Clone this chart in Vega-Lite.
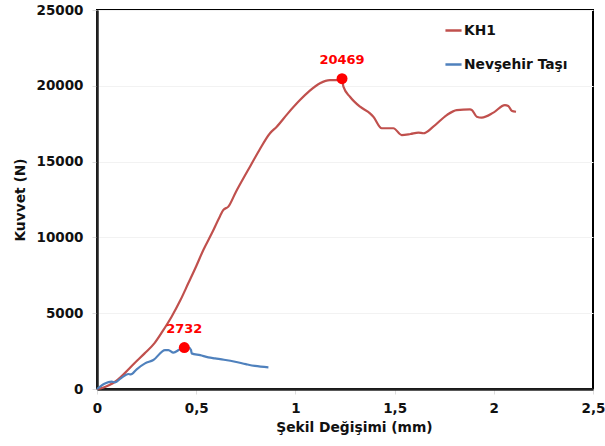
{
  "$schema": "https://vega.github.io/schema/vega-lite/v6.json",
  "autosize": {"type": "none"},
  "padding": {"left": 97, "top": 10, "right": 12, "bottom": 57},
  "width": 496,
  "height": 379,
  "background": "white",
  "config": {
    "font": "DejaVu Sans",
    "view": {"stroke": "#000", "strokeWidth": 2},
    "axis": {
      "labelFont": "DejaVu Sans", "labelFontWeight": "bold", "labelFontSize": 13.5, "labelColor": "#111",
      "titleFont": "DejaVu Sans", "titleFontWeight": "bold", "titleFontSize": 13.8, "titleColor": "#111",
      "domainColor": "#222", "domainWidth": 2.5, "tickColor": "#ddd", "tickSize": 5, "gridColor": "#f2f2f2"
    }
  },
  "datasets": {
    "curves": [
      {"series": "KH1", "x": 0, "y": 0},
      {"series": "KH1", "x": 0.03, "y": 80},
      {"series": "KH1", "x": 0.06, "y": 250},
      {"series": "KH1", "x": 0.091, "y": 480},
      {"series": "KH1", "x": 0.14, "y": 1050},
      {"series": "KH1", "x": 0.19, "y": 1715},
      {"series": "KH1", "x": 0.24, "y": 2350},
      {"series": "KH1", "x": 0.29, "y": 3030},
      {"series": "KH1", "x": 0.33, "y": 3800},
      {"series": "KH1", "x": 0.376, "y": 4770},
      {"series": "KH1", "x": 0.42, "y": 5850},
      {"series": "KH1", "x": 0.46, "y": 6970},
      {"series": "KH1", "x": 0.5, "y": 8100},
      {"series": "KH1", "x": 0.536, "y": 9170},
      {"series": "KH1", "x": 0.58, "y": 10300},
      {"series": "KH1", "x": 0.62, "y": 11400},
      {"series": "KH1", "x": 0.637, "y": 11810},
      {"series": "KH1", "x": 0.662, "y": 12030},
      {"series": "KH1", "x": 0.7, "y": 13000},
      {"series": "KH1", "x": 0.74, "y": 13950},
      {"series": "KH1", "x": 0.771, "y": 14660},
      {"series": "KH1", "x": 0.82, "y": 15800},
      {"series": "KH1", "x": 0.872, "y": 16870},
      {"series": "KH1", "x": 0.906, "y": 17300},
      {"series": "KH1", "x": 0.96, "y": 18150},
      {"series": "KH1", "x": 1.023, "y": 19060},
      {"series": "KH1", "x": 1.07, "y": 19650},
      {"series": "KH1", "x": 1.124, "y": 20170},
      {"series": "KH1", "x": 1.174, "y": 20380},
      {"series": "KH1", "x": 1.208, "y": 20380},
      {"series": "KH1", "x": 1.235, "y": 20469},
      {"series": "KH1", "x": 1.242, "y": 19940},
      {"series": "KH1", "x": 1.275, "y": 19280},
      {"series": "KH1", "x": 1.326, "y": 18620},
      {"series": "KH1", "x": 1.376, "y": 18180},
      {"series": "KH1", "x": 1.393, "y": 17960},
      {"series": "KH1", "x": 1.435, "y": 17200},
      {"series": "KH1", "x": 1.494, "y": 17200},
      {"series": "KH1", "x": 1.536, "y": 16750},
      {"series": "KH1", "x": 1.58, "y": 16820},
      {"series": "KH1", "x": 1.62, "y": 16910},
      {"series": "KH1", "x": 1.645, "y": 16870},
      {"series": "KH1", "x": 1.695, "y": 17300},
      {"series": "KH1", "x": 1.763, "y": 18070},
      {"series": "KH1", "x": 1.813, "y": 18400},
      {"series": "KH1", "x": 1.88, "y": 18450},
      {"series": "KH1", "x": 1.89, "y": 18400},
      {"series": "KH1", "x": 1.914, "y": 17960},
      {"series": "KH1", "x": 1.939, "y": 17900},
      {"series": "KH1", "x": 1.998, "y": 18230},
      {"series": "KH1", "x": 2.056, "y": 18730},
      {"series": "KH1", "x": 2.073, "y": 18670},
      {"series": "KH1", "x": 2.09, "y": 18360},
      {"series": "KH1", "x": 2.112, "y": 18290},
      {"series": "Nevşehir Taşı", "x": 0, "y": 0},
      {"series": "Nevşehir Taşı", "x": 0.04, "y": 370},
      {"series": "Nevşehir Taşı", "x": 0.074, "y": 480},
      {"series": "Nevşehir Taşı", "x": 0.091, "y": 440},
      {"series": "Nevşehir Taşı", "x": 0.12, "y": 700},
      {"series": "Nevşehir Taşı", "x": 0.158, "y": 990},
      {"series": "Nevşehir Taşı", "x": 0.17, "y": 960},
      {"series": "Nevşehir Taşı", "x": 0.2, "y": 1300},
      {"series": "Nevşehir Taşı", "x": 0.242, "y": 1690},
      {"series": "Nevşehir Taşı", "x": 0.284, "y": 1910},
      {"series": "Nevşehir Taşı", "x": 0.343, "y": 2570},
      {"series": "Nevşehir Taşı", "x": 0.36, "y": 2570},
      {"series": "Nevşehir Taşı", "x": 0.385, "y": 2400},
      {"series": "Nevşehir Taşı", "x": 0.418, "y": 2620},
      {"series": "Nevşehir Taşı", "x": 0.44, "y": 2732},
      {"series": "Nevşehir Taşı", "x": 0.46, "y": 2750},
      {"series": "Nevşehir Taşı", "x": 0.474, "y": 2570},
      {"series": "Nevşehir Taşı", "x": 0.477, "y": 2350},
      {"series": "Nevşehir Taşı", "x": 0.52, "y": 2230},
      {"series": "Nevşehir Taşı", "x": 0.561, "y": 2090},
      {"series": "Nevşehir Taşı", "x": 0.595, "y": 2020},
      {"series": "Nevşehir Taşı", "x": 0.64, "y": 1930},
      {"series": "Nevşehir Taşı", "x": 0.696, "y": 1800},
      {"series": "Nevşehir Taşı", "x": 0.75, "y": 1640},
      {"series": "Nevşehir Taşı", "x": 0.796, "y": 1520},
      {"series": "Nevşehir Taşı", "x": 0.864, "y": 1430}
    ],
    "peaks": [
      {"x": 1.235, "y": 20469, "label": "20469"},
      {"x": 0.44, "y": 2732, "label": "2732"}
    ]
  },
  "layer": [
    {
      "data": {"name": "curves"},
      "mark": {"type": "line", "strokeWidth": 2.2, "interpolate": "monotone"},
      "encoding": {
        "x": {
          "field": "x", "type": "quantitative",
          "scale": {"domain": [0, 2.5], "nice": false},
          "axis": {
            "title": "Şekil Değişimi (mm)", "values": [0, 0.5, 1, 1.5, 2, 2.5],
            "labelExpr": "replace(format(datum.value, '~g'), '.', ',')",
            "grid": false, "labelPadding": 7, "titlePadding": 6, "labelFlush": false, "titleX": 257
          }
        },
        "y": {
          "field": "y", "type": "quantitative",
          "scale": {"domain": [0, 25000], "nice": false},
          "axis": {
            "title": "Kuvvet (N)", "values": [0, 5000, 10000, 15000, 20000, 25000],
            "format": "d", "grid": true, "labelPadding": 9, "titlePadding": 9
          }
        },
        "color": {
          "field": "series", "type": "nominal",
          "scale": {"domain": ["KH1", "Nevşehir Taşı"], "range": ["#C0504D", "#4F81BD"]},
          "legend": {
            "title": null, "orient": "none", "legendX": 347, "legendY": 11,
            "symbolType": "stroke", "symbolSize": 260, "symbolStrokeWidth": 2.5,
            "labelFont": "DejaVu Sans", "labelFontWeight": "bold", "labelFontSize": 13.8,
            "labelColor": "#111", "rowPadding": 17, "labelOffset": 1
          }
        }
      }
    },
    {
      "data": {"name": "peaks"},
      "mark": {"type": "point", "filled": true, "color": "#FF0000", "size": 120, "opacity": 1},
      "encoding": {
        "x": {"field": "x", "type": "quantitative"},
        "y": {"field": "y", "type": "quantitative"}
      }
    },
    {
      "data": {"name": "peaks"},
      "mark": {"type": "text", "color": "#FF0000", "font": "DejaVu Sans", "fontWeight": "bold", "fontSize": 13, "dy": -19},
      "encoding": {
        "x": {"field": "x", "type": "quantitative"},
        "y": {"field": "y", "type": "quantitative"},
        "text": {"field": "label"}
      }
    }
  ]
}
